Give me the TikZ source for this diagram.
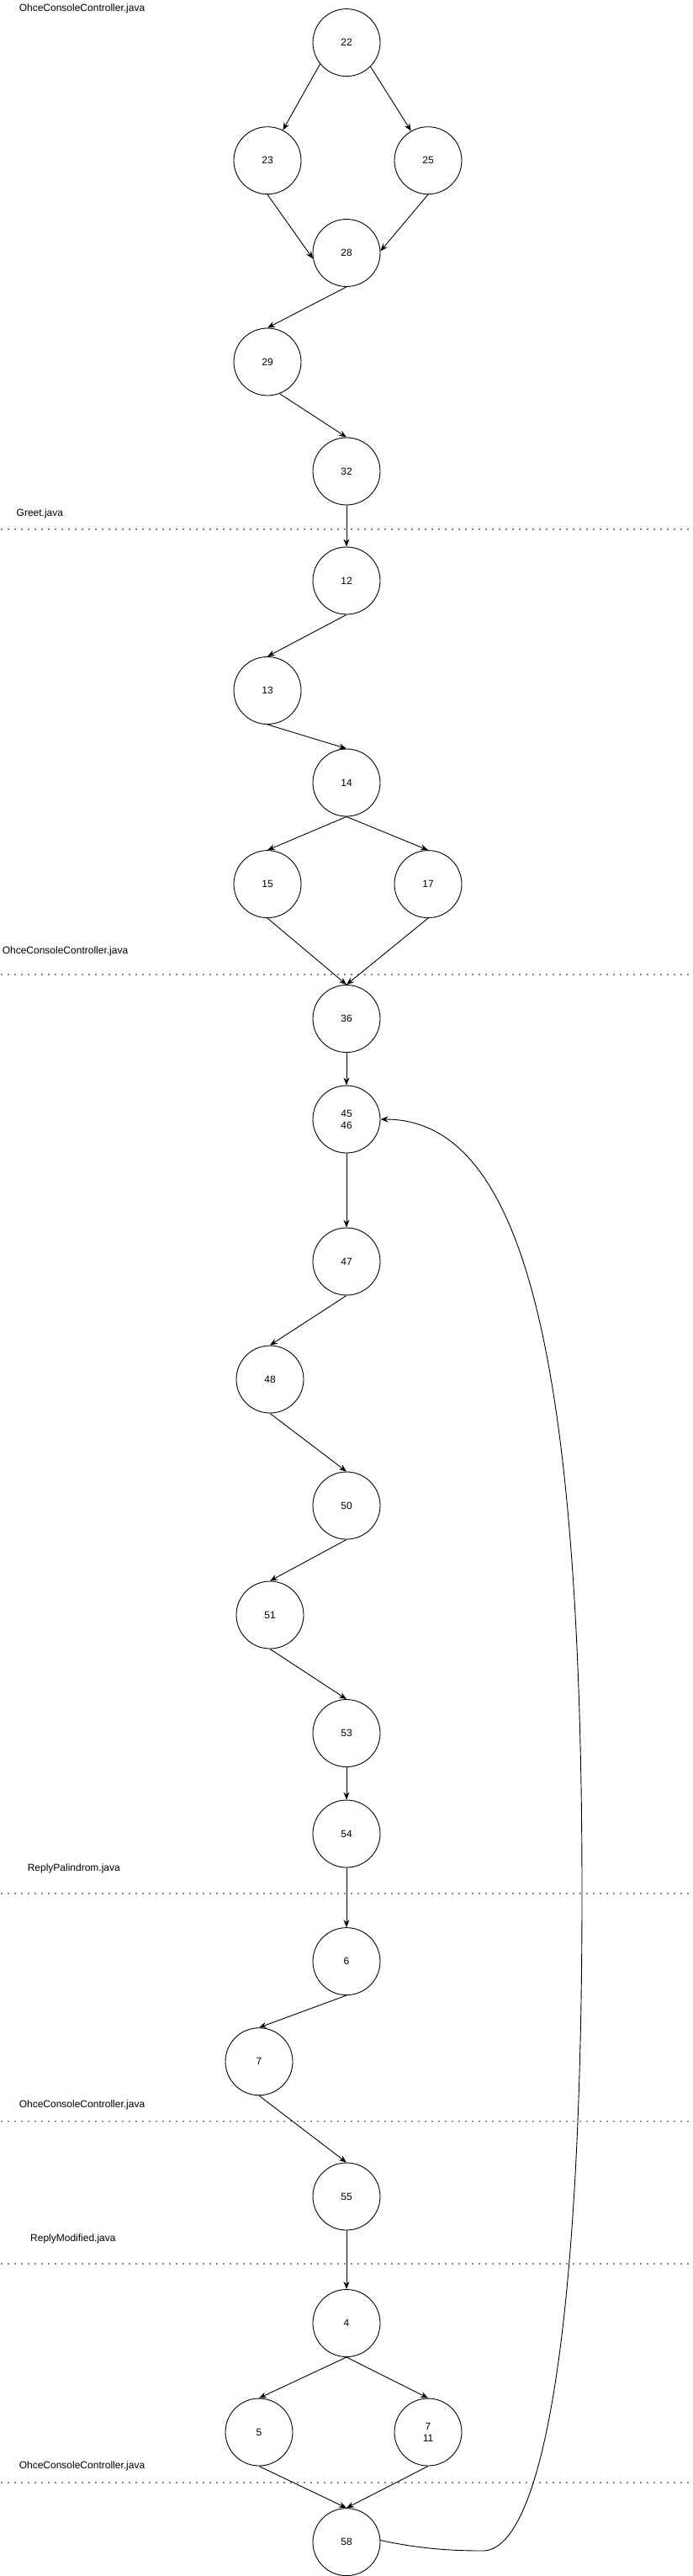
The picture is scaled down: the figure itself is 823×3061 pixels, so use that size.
\documentclass[tikz,border=0pt]{standalone}
\usepackage{fontspec}
\setmainfont{Liberation Sans}
\usetikzlibrary{arrows.meta}
\begin{document}
\begin{tikzpicture}[x=1pt,y=-1pt,
  cnode/.style={circle,draw,line width=0.9pt,minimum size=80pt,inner sep=0pt,font=\fontsize{12}{14}\selectfont,align=center},
  flabel/.style={anchor=west,inner sep=0pt,font=\fontsize{12}{14}\selectfont},
  sepline/.style={line width=1.7pt,line cap=round,dash pattern=on 0pt off 8pt},
  edge/.style={line width=0.9pt,-{Stealth[length=9pt,width=7pt,inset=3pt]}}]
\useasboundingbox (0,0) rectangle (823,3061);
% file labels
\node[flabel] (l1) at (22.6,10.4) {OhceConsoleController.java};
\node[flabel] (l2) at (19.5,610) {Greet.java};
\node[flabel] (l3) at (2.6,1130.6) {OhceConsoleController.java};
\node[flabel] (l4) at (32.6,2220.7) {ReplyPalindrom.java};
\node[flabel] (l5) at (22.6,2501) {OhceConsoleController.java};
\node[flabel] (l6) at (36,2660.5) {ReplyModified.java};
\node[flabel] (l7) at (22.6,2930) {OhceConsoleController.java};
% separators
\coordinate (s1a) at (2,629); \coordinate (s1b) at (823,629);
\coordinate (s2a) at (2,1158); \coordinate (s2b) at (823,1158);
\coordinate (s3a) at (2,2250); \coordinate (s3b) at (823,2250);
\coordinate (s4a) at (2,2520.6); \coordinate (s4b) at (823,2520.6);
\coordinate (s5a) at (2,2690); \coordinate (s5b) at (823,2690);
\coordinate (s6a) at (2,2950); \coordinate (s6b) at (823,2950);
\foreach \s in {1,...,6} {\draw[sepline] (s\s a) -- (s\s b);}
% nodes
\node[cnode] (n22) at (412,50.6) {22};
\node[cnode] (n23) at (318,190.7) {23};
\node[cnode] (n25) at (509,190.7) {25};
\node[cnode] (n28) at (412,300.5) {28};
\node[cnode] (n29) at (318,430) {29};
\node[cnode] (n32) at (412,560) {32};
\node[cnode] (n12) at (412,690) {12};
\node[cnode] (n13) at (318,820.5) {13};
\node[cnode] (n14) at (412,930) {14};
\node[cnode] (n15) at (318,1050.6) {15};
\node[cnode] (n17) at (509,1050.6) {17};
\node[cnode] (n36) at (412,1210.5) {36};
\node[cnode] (n45) at (412,1330) {45\\46};
\node[cnode] (n47) at (412,1499) {47};
\node[cnode] (n48) at (321,1639) {48};
\node[cnode] (n50) at (412,1789) {50};
\node[cnode] (n51) at (321,1919) {51};
\node[cnode] (n53) at (412,2059.5) {53};
\node[cnode] (n54) at (412,2179) {54};
\node[cnode] (n6) at (412,2330.6) {6};
\node[cnode] (n7) at (308,2449.7) {7};
\node[cnode] (n55) at (412,2610) {55};
\node[cnode] (n4) at (412,2760.5) {4};
\node[cnode] (n5) at (308,2890) {5};
\node[cnode] (n711) at (509,2890) {7\\11};
\node[cnode] (n58) at (412,3020.6) {58};
% edges
\draw[edge] (n22.219) -- (n23.63);
\draw[edge] (n22.315) -- (n25.120);
\draw[edge] (n23.south) -- (n28.190);
\draw[edge] (n25.south) -- (n28.3);
\draw[edge] (n28.south) -- (n29.north);
\draw[edge] (n29.291) -- (n32.north);
\draw[edge] (n32.south) -- (n12.north);
\draw[edge] (n12.south) -- (n13.north);
\draw[edge] (n13.south) -- (n14.north);
\draw[edge] (n14.south) -- (n15.north);
\draw[edge] (n14.south) -- (n17.north);
\draw[edge] (n15.south) -- (n36.north);
\draw[edge] (n17.south) -- (n36.north);
\draw[edge] (n36.south) -- (n45.north);
\draw[edge] (n45.south) -- (n47.north);
\draw[edge] (n47.south) -- (n48.north);
\draw[edge] (n48.south) -- (n50.north);
\draw[edge] (n50.south) -- (n51.north);
\draw[edge] (n51.south) -- (n53.north);
\draw[edge] (n53.south) -- (n54.north);
\draw[edge] (n54.south) -- (n6.north);
\draw[edge] (n6.south) -- (n7.north);
\draw[edge] (n7.south) -- (n55.north);
\draw[edge] (n55.south) -- (n4.north);
\draw[edge] (n4.south) -- (n5.north);
\draw[edge] (n4.south) -- (n711.north);
\draw[edge] (n5.south) -- (n58.north);
\draw[edge] (n711.south) -- (n58.north);
% loop back
\coordinate (w1) at (574,3031);
\coordinate (w2) at (692,2250);
\draw[edge] (n58.3) .. controls (500,3029) and (540,3031) .. (w1)
  .. controls (640,3031) and (692,2800) .. (w2)
  .. controls (692,1600) and (620,1330) .. (n45.east);
\end{tikzpicture}
\end{document}
